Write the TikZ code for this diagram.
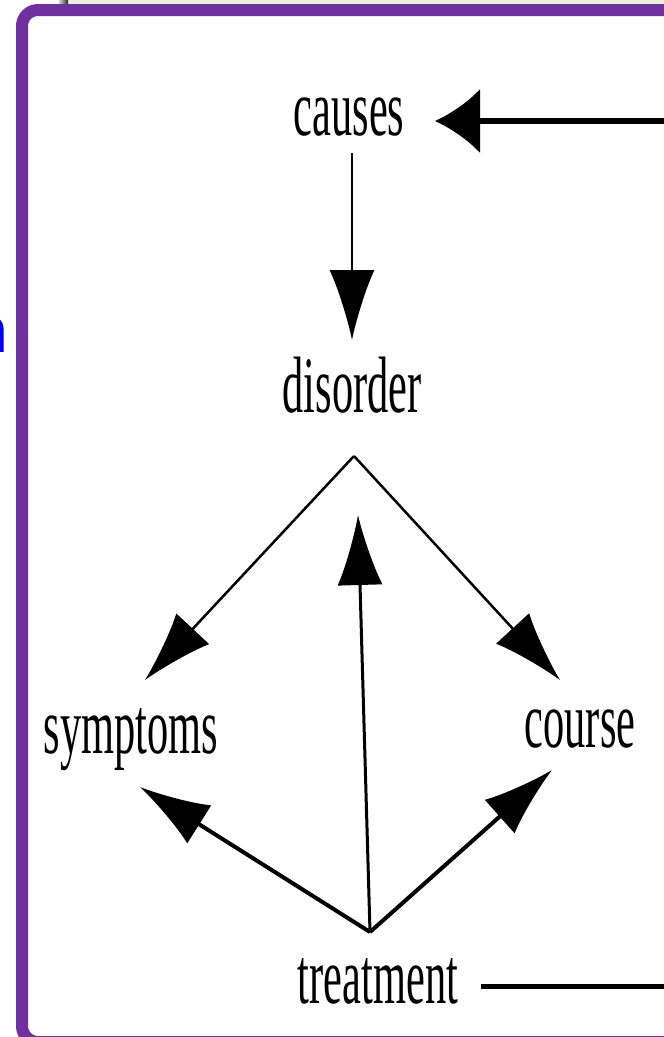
\documentclass[tikz,border=0pt]{standalone}
\usepackage{fontspec}
\usepackage{graphicx}
\usetikzlibrary{arrows.meta}
\newfontfamily\lblfont{Liberation Serif}
\newfontfamily\sidefont{Liberation Sans}
\definecolor{framepurple}{RGB}{112,48,160}
\definecolor{topcream}{RGB}{236,240,220}
\newcommand{\narrow}[1]{\scalebox{0.53}[1]{#1}}
\tikzset{
  term/.style={anchor=base, inner sep=0pt, font=\lblfont\fontsize{80}{96}\selectfont},
  link/.style={draw=black, line width=2.5pt, -{Latex[length=70pt,width=45pt]}},
  thicklink/.style={link, line width=4pt},
  feedback/.style={draw=black, line width=6pt, -{Latex[length=45pt,width=65pt]}},
  plainline/.style={draw=black, line width=5pt}
}
\begin{document}
\begin{tikzpicture}[x=1pt,y=-1pt]
\useasboundingbox (0,0) rectangle (664,1037);
\fill[white] (0,0) rectangle (664,1037);

% strip along the top edge
\fill[topcream] (68,0) rectangle (664,5);
\shade[left color=white, right color=black!85] (57,0) rectangle (68,5);

% frame
\draw[framepurple, line width=12pt, rounded corners=16pt] (22,10) rectangle (720,1042);

% letter cut by the left edge
\node[text=blue, font=\sidefont\bfseries\fontsize{65}{78}\selectfont, anchor=base east, inner sep=0pt] (sidechar) at (8,352) {n};

% terms
\node[term] (causes)    at (349,135)  {\narrow{causes}};
\node[term] (disorder)  at (352,412)  {\narrow{disorder}};
\node[term] (symptoms)  at (131,753)  {\narrow{symptoms}};
\node[term] (course)    at (580,747)  {\narrow{course}};
\node[term] (treatment) at (378,1003) {\narrow{treatment}};

% connector end points
\coordinate (feedin)      at (700,121);
\coordinate (causesin)    at (435,121);
\coordinate (causesout)   at (352,153);
\coordinate (disorderin)  at (352,340);
\coordinate (split)       at (354,456);
\coordinate (symptomsin)  at (145,680);
\coordinate (coursein)    at (560,680);
\coordinate (join)        at (370,932);
\coordinate (disorderup)  at (358,515);
\coordinate (symptomsup)  at (140,787);
\coordinate (courseup)    at (552,770);
\coordinate (treatout)    at (481,986);
\coordinate (feedout)     at (700,986);

% connectors
\draw[feedback] (feedin) -- (causesin);
\draw[link] (causesout) -- (disorderin);
\draw[link] (split) -- (symptomsin);
\draw[link] (split) -- (coursein);
\draw[link, line width=3pt] (join) -- (disorderup);
\draw[thicklink] (join) -- (symptomsup);
\draw[thicklink] (join) -- (courseup);
\draw[plainline] (treatout) -- (feedout);
\end{tikzpicture}
\end{document}
